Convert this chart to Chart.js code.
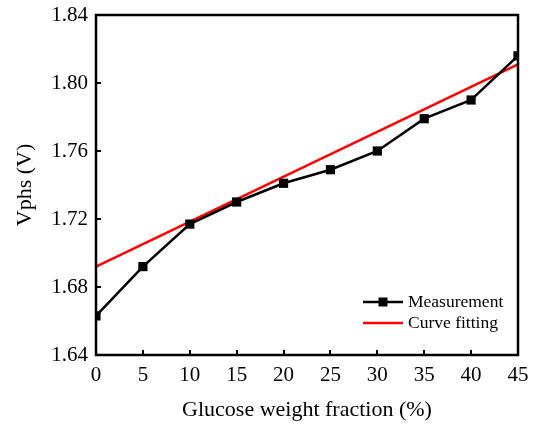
<!DOCTYPE html>
<html>
<head>
<meta charset="utf-8">
<script src="https://cdn.jsdelivr.net/npm/chart.js@4"></script>
<style>
  html, body { margin: 0; padding: 0; background: #fff; }
  #wrap { width: 543px; height: 426px; position: relative; }
</style>
</head>
<body>
<div id="wrap"><canvas id="c"></canvas></div>
<script>
// Glucose weight fraction (%) and measured Vphs (V)
const fractions = [0, 5, 10, 15, 20, 25, 30, 35, 40, 45];
const vphsMeasured = [1.663, 1.692, 1.717, 1.730, 1.741, 1.749, 1.760, 1.779, 1.790, 1.816];
// Linear fit, given by its two end points
const fitFractions = [0, 45];
const vphsFit = [1.692, 1.811];
const seriesNames = ['Measurement', 'Curve fitting'];

const FONT = '"Liberation Serif", "Times New Roman", serif';

const toPoints = (xs, ys) => xs.map((x, i) => ({ x, y: ys[i] }));

// Frame around the plot area with inward-pointing ticks on bottom and left
const framePlugin = {
  id: 'frame',
  afterDraw(chart) {
    const { ctx, chartArea: a, scales } = chart;
    ctx.save();
    ctx.strokeStyle = '#000';
    ctx.lineWidth = 2.5;
    ctx.strokeRect(a.left, a.top, a.right - a.left, a.bottom - a.top);
    ctx.lineWidth = 2;
    ctx.beginPath();
    scales.x.ticks.forEach(t => {
      const px = Math.round(scales.x.getPixelForValue(t.value));
      ctx.moveTo(px, a.bottom);
      ctx.lineTo(px, a.bottom - 5);
    });
    scales.y.ticks.forEach(t => {
      const py = Math.round(scales.y.getPixelForValue(t.value));
      ctx.moveTo(a.left, py);
      ctx.lineTo(a.left + 5, py);
    });
    ctx.stroke();
    ctx.restore();
  }
};

// Legend drawn inside the plot, lower right
const insideLegend = {
  id: 'insideLegend',
  afterDraw(chart) {
    const { ctx, chartArea: a } = chart;
    const x0 = a.right - 155, x1 = a.right - 115;
    const rows = [a.bottom - 53, a.bottom - 32];
    ctx.save();
    ctx.font = '17.5px ' + FONT;
    ctx.textBaseline = 'middle';
    ctx.fillStyle = '#000';
    chart.data.datasets.forEach((ds, i) => {
      const y = rows[i];
      ctx.strokeStyle = ds.borderColor;
      ctx.lineWidth = ds.borderWidth;
      ctx.beginPath();
      ctx.moveTo(x0, y);
      ctx.lineTo(x1, y);
      ctx.stroke();
      if (ds.pointRadius > 0) {
        ctx.fillStyle = ds.pointBackgroundColor;
        ctx.fillRect((x0 + x1) / 2 - 4.5, y - 4.5, 9, 9);
      }
      ctx.fillStyle = '#000';
      ctx.fillText(ds.label, x1 + 5, y);
    });
    ctx.restore();
  }
};

new Chart(document.getElementById('c'), {
  type: 'line',
  data: {
    datasets: [
      {
        label: seriesNames[0],
        data: toPoints(fractions, vphsMeasured),
        borderColor: '#000',
        borderWidth: 2.5,
        pointStyle: 'rect',
        pointRadius: 6.5,
        pointBorderWidth: 0,
        pointBackgroundColor: '#000',
        pointBorderColor: '#000',
        clip: 0,
        order: 1
      },
      {
        label: seriesNames[1],
        data: toPoints(fitFractions, vphsFit),
        borderColor: '#ff0000',
        borderWidth: 2.5,
        pointRadius: 0,
        clip: 0,
        order: 2
      }
    ]
  },
  options: {
    responsive: true,
    maintainAspectRatio: false,
    animation: false,
    devicePixelRatio: 1,
    layout: { padding: { left: 0, right: 25, top: 15, bottom: 0 } },
    plugins: {
      legend: { display: false },
      tooltip: { enabled: false }
    },
    scales: {
      x: {
        type: 'linear',
        min: 0,
        max: 45,
        grid: { display: false, drawTicks: false },
        border: { display: false },
        ticks: {
          stepSize: 5,
          padding: 8,
          color: '#000',
          maxRotation: 0,
          font: { family: FONT, size: 21 }
        },
        title: {
          display: true,
          text: 'Glucose weight fraction (%)',
          color: '#000',
          font: { family: FONT, size: 22 },
          padding: { top: 0, bottom: 3 }
        },
        afterFit(scale) {
          scale.height = 71;
          scale.paddingLeft = 0;
          scale.paddingRight = 0;
        }
      },
      y: {
        min: 1.64,
        max: 1.84,
        grid: { display: false, drawTicks: false },
        border: { display: false },
        ticks: {
          stepSize: 0.04,
          padding: 8,
          color: '#000',
          font: { family: FONT, size: 21 },
          callback: v => Number(v).toFixed(2)
        },
        title: {
          display: true,
          text: 'Vphs (V)',
          color: '#000',
          font: { family: FONT, size: 22 },
          padding: { top: 12, bottom: 0 }
        },
        afterFit(scale) {
          scale.width = 96;
          scale.paddingTop = 0;
          scale.paddingBottom = 0;
        }
      }
    }
  },
  plugins: [framePlugin, insideLegend]
});
</script>
</body>
</html>
